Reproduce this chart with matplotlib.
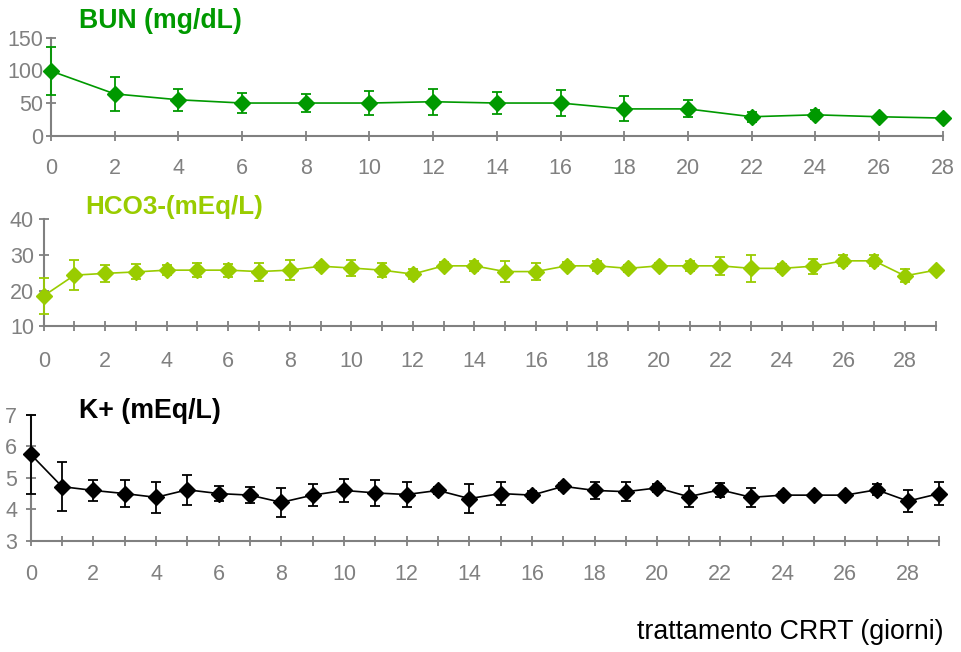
import numpy as np
import matplotlib
matplotlib.use('Agg')
import matplotlib.pyplot as plt

plt.rcParams['font.family'] = ['Liberation Sans', 'DejaVu Sans']

# BUN (mg/dL), every 2 days
bun_days = [0, 2, 4, 6, 8, 10, 12, 14, 16, 18, 20, 22, 24, 26, 28]
bun_mean = [99, 64, 55, 50, 50, 50, 52, 50, 50, 41, 41, 29, 32, 29, 27]
bun_err = [37, 26, 17, 15, 14, 18, 20, 17, 20, 19, 13, 8, 7, 2, 3]

# HCO3- (mEq/L), daily
days = list(range(30))
hco3_mean = [18.5, 24.3, 24.8, 25.2, 25.7, 25.7, 25.7, 25.3, 25.7, 26.8,
             26.3, 25.7, 24.6, 26.9, 26.9, 25.3, 25.3, 26.9, 26.9, 26.2,
             26.9, 26.9, 26.9, 26.2, 26.2, 26.8, 28.3, 28.3, 24.1, 25.7]
hco3_err = [5.0, 4.2, 2.3, 2.1, 1.4, 2.0, 1.8, 2.5, 2.8, 1.0,
            2.3, 2.0, 1.4, 1.0, 1.3, 3.0, 2.3, 1.0, 1.3, 1.0,
            0.7, 1.4, 2.6, 3.7, 1.1, 2.1, 1.5, 1.5, 1.8, 0.7]

# K+ (mEq/L), daily
k_mean = [5.75, 4.72, 4.60, 4.50, 4.38, 4.62, 4.50, 4.45, 4.22, 4.45,
          4.60, 4.52, 4.47, 4.60, 4.34, 4.50, 4.45, 4.73, 4.60, 4.56,
          4.68, 4.40, 4.62, 4.38, 4.45, 4.45, 4.45, 4.62, 4.26, 4.50]
k_err = [1.25, 0.78, 0.33, 0.42, 0.49, 0.48, 0.24, 0.25, 0.45, 0.36,
         0.36, 0.40, 0.40, 0.10, 0.45, 0.36, 0.12, 0.12, 0.28, 0.30,
         0.12, 0.33, 0.22, 0.30, 0.10, 0.08, 0.08, 0.18, 0.36, 0.36]

W, H = 962, 652
GRAY = '#808080'


def px_axes(fig, left, right, top, bottom):
    # pixel box -> figure fraction
    return fig.add_axes([left / W, 1 - bottom / H, (right - left) / W, (bottom - top) / H])


def style_panel(ax, xmax, ylim, yticks, xpad, ypad, minor=False):
    ax.set_xlim(0, xmax)
    ax.set_ylim(*ylim)
    ax.set_yticks(yticks)
    ax.set_xticks(range(0, 29, 2))
    if minor:
        ax.set_xticks(range(1, 30, 2), minor=True)
    for s in ['top', 'right']:
        ax.spines[s].set_visible(False)
    for s in ['left', 'bottom']:
        ax.spines[s].set_color(GRAY)
        ax.spines[s].set_linewidth(1.5)
    ax.tick_params(axis='both', which='both', direction='inout', length=7,
                   width=1.3, color=GRAY, labelcolor=GRAY, labelsize=15.5)
    ax.tick_params(axis='x', which='both', pad=xpad)
    ax.tick_params(axis='y', pad=ypad)
    ax.patch.set_alpha(0)


def draw(ax, x, y, e, color):
    ax.errorbar(x, y, yerr=e, color=color, marker='D', markersize=8,
                linewidth=1.2, elinewidth=1.3, capsize=3.7, capthick=1.3,
                clip_on=False, zorder=3)


fig = plt.figure(figsize=(W / 100, H / 100), dpi=100)

ax1 = px_axes(fig, 51, 942.7, 37.7, 135.7)
draw(ax1, bun_days, bun_mean, bun_err, '#009900')
style_panel(ax1, 28, (0, 150), [0, 50, 100, 150], xpad=12.5, ypad=2)

ax2 = px_axes(fig, 43.7, 935.7, 219, 326.3)
draw(ax2, days, hco3_mean, hco3_err, '#99CC00')
style_panel(ax2, 29, (10, 40), [10, 20, 30, 40], xpad=14.5, ypad=3.5, minor=True)

ax3 = px_axes(fig, 30.7, 939.3, 415, 540.7)
draw(ax3, days, k_mean, k_err, 'black')
style_panel(ax3, 29, (3, 7), [3, 4, 5, 6, 7], xpad=13, ypad=6.3, minor=True)

fig.text(79 / W, 1 - 21 / H, 'BUN (mg/dL)', color='#009900', fontsize=19.2,
         fontweight='bold', va='center', ha='left')
fig.text(85 / W, 1 - 207 / H, 'HCO3-(mEq/L)', color='#99CC00', fontsize=18.7,
         fontweight='bold', va='center', ha='left')
fig.text(79 / W, 1 - 411 / H, 'K+ (mEq/L)', color='black', fontsize=19.3,
         fontweight='bold', va='center', ha='left')
fig.text(944 / W, 1 - 632 / H, 'trattamento CRRT (giorni)', color='black',
         fontsize=19.3, va='center', ha='right')

fig.savefig('out.png', dpi=100)
